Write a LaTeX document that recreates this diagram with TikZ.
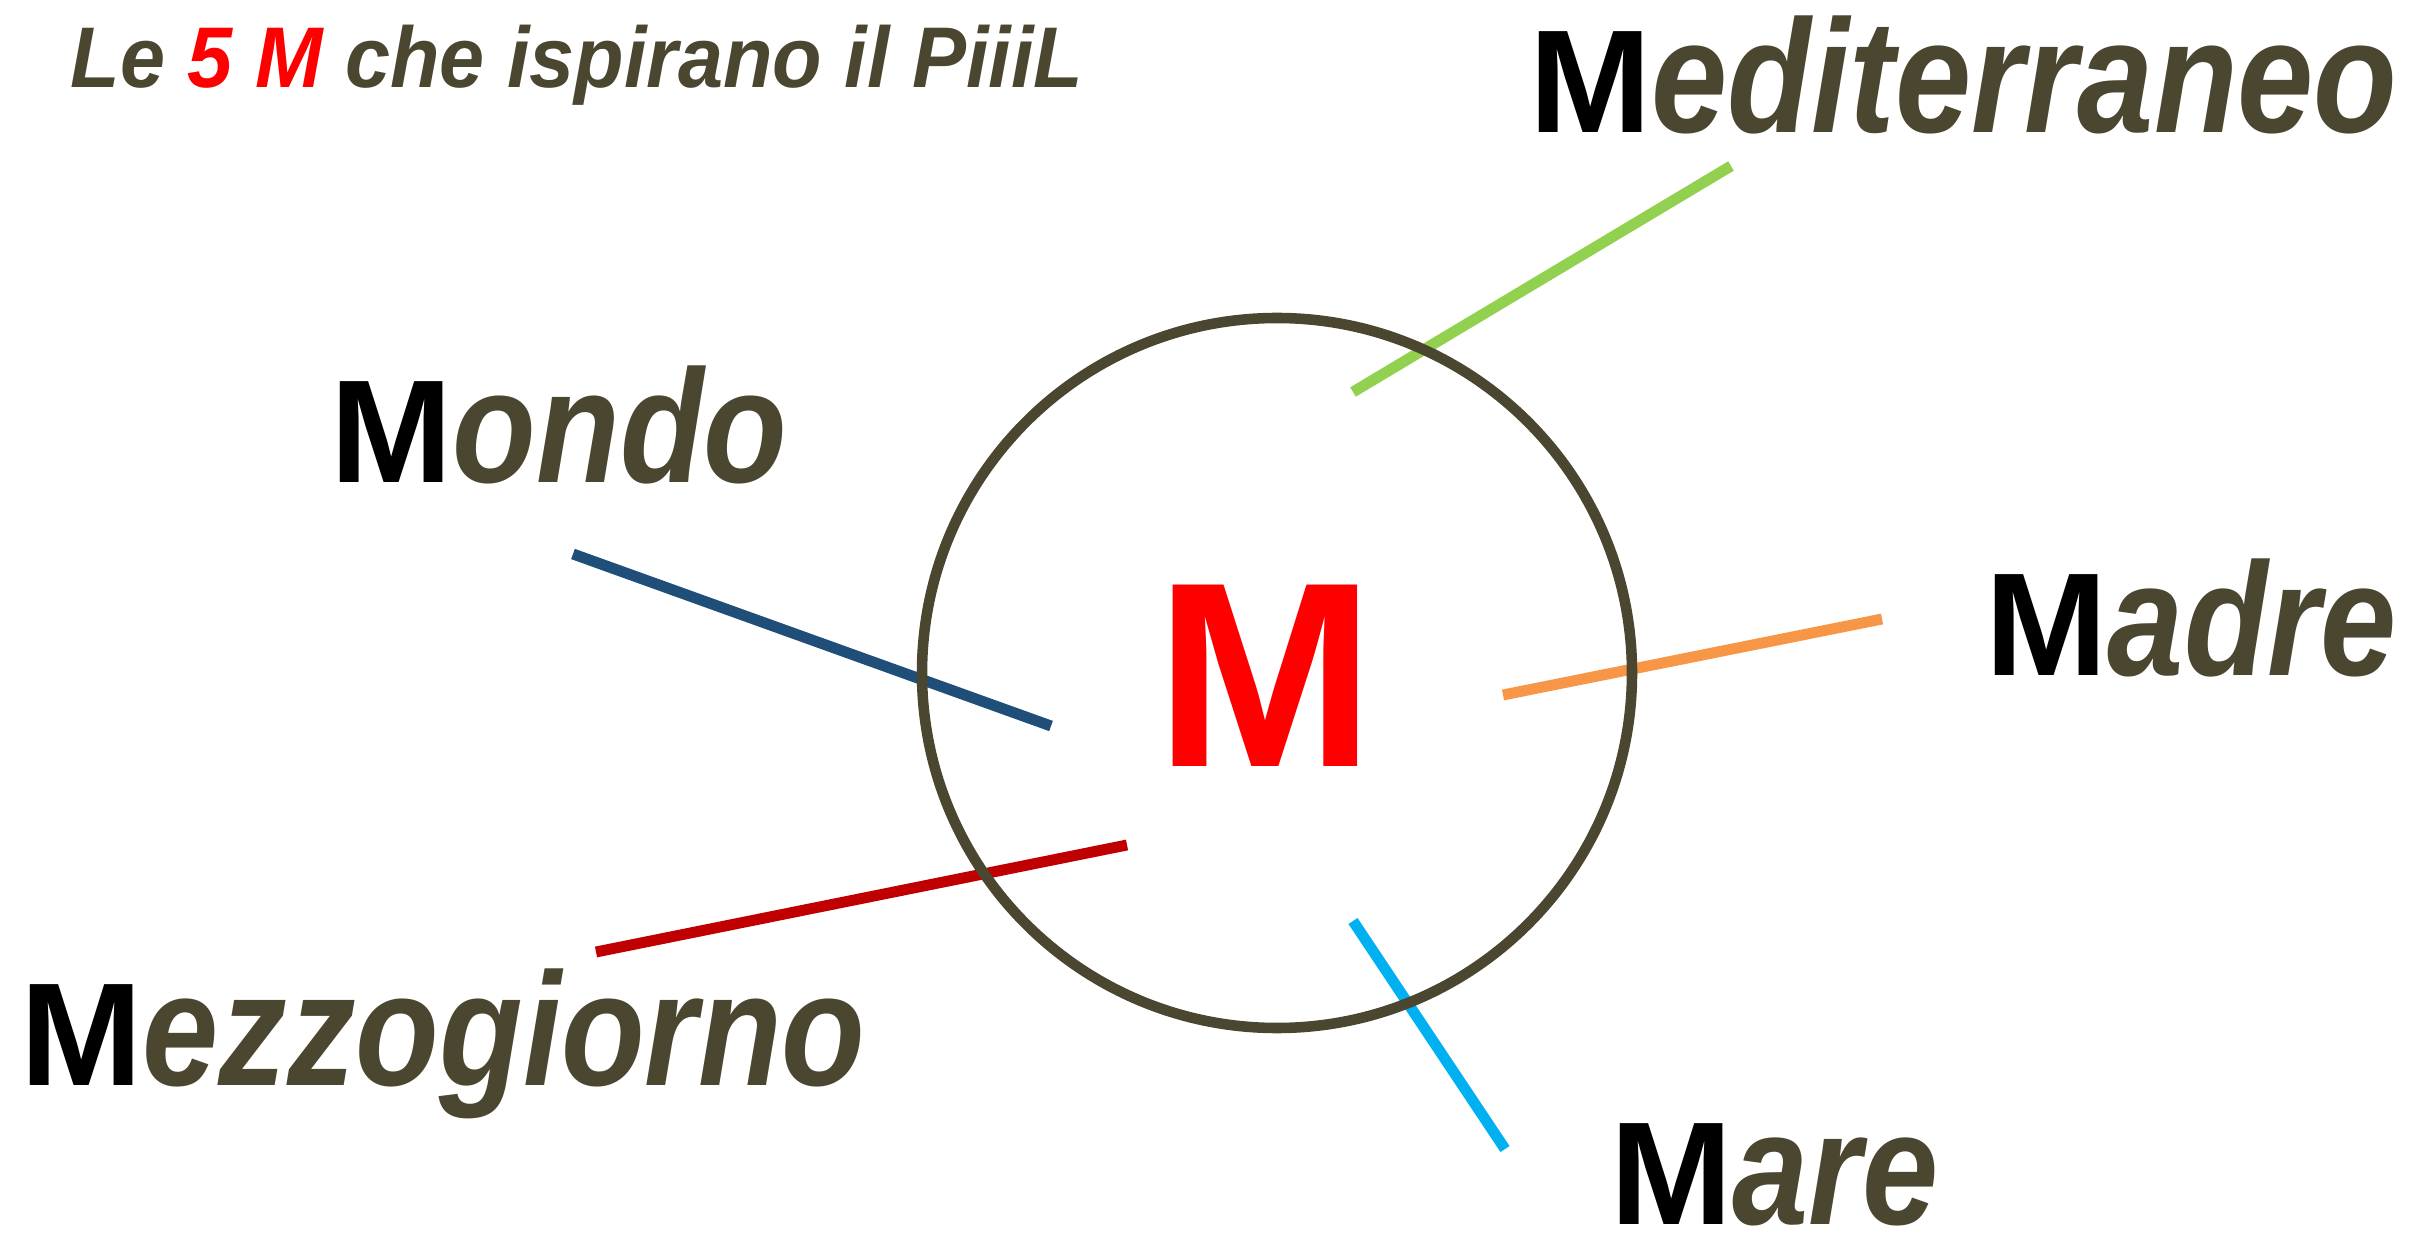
\documentclass[tikz,border=0pt]{standalone}
\usepackage{fontspec}
\usepackage{graphicx}
\setmainfont{Liberation Sans}
\definecolor{mtext}{HTML}{4B4630}
\definecolor{mgreen}{HTML}{92D050}
\definecolor{mblue}{HTML}{1F4E79}
\definecolor{morange}{HTML}{F79646}
\definecolor{mred}{HTML}{C00000}
\definecolor{mcyan}{HTML}{00B0F0}
\newcommand{\mword}[1]{{\fontsize{41.7}{45}\selectfont\bfseries M}{\color{mtext}\fontsize{45.8}{50}\selectfont\bfseries\itshape\scalebox{0.85}[1]{#1}}}
\tikzset{
  mlabel/.style={anchor=base west, inner sep=0pt},
  spoke/.style={line width=3.1pt},
}
\begin{document}
\begin{tikzpicture}[x=0.01cm, y=-0.01cm]
            \useasboundingbox (0,0) rectangle (2427,1240);
            % title
            \node[mlabel] (title) at (70,88) {\color{mtext}\fontsize{24.5}{26}\selectfont\bfseries\itshape\scalebox{0.94}[1]{Le {\color{red}5 M} che ispirano il PiiiL}};
            % the five words
            \node[mlabel] (mediterraneo) at (1529,133) {\mword{editerraneo}};
            \node[mlabel] (mondo) at (330,483) {\mword{ondo}};
            \node[mlabel] (madre) at (1985,676) {\mword{adre}};
            \node[mlabel] (mezzogiorno) at (20,1085) {\mword{ezzogiorno}};
            \node[mlabel] (mare) at (1610,1224) {\mword{are}};
            % the spokes
            \coordinate (g1) at (1353,392); \coordinate (g2) at (1731,166);
            \coordinate (b1) at (573,554);  \coordinate (b2) at (1051,726);
            \coordinate (o1) at (1503,695); \coordinate (o2) at (1882,619);
            \coordinate (r1) at (596,952);  \coordinate (r2) at (1127,845);
            \coordinate (c1) at (1353,921); \coordinate (c2) at (1505,1149);
            \draw[spoke, mgreen] (g1) -- (g2);
            \draw[spoke, mblue] (b1) -- (b2);
            \draw[spoke, morange] (o1) -- (o2);
            \draw[spoke, mred] (r1) -- (r2);
            \draw[spoke, mcyan] (c1) -- (c2);
            % the circle and its M
            \draw[mtext, line width=3pt] (1277,673) circle (355);
            \node[inner sep=0pt, text=red] (bigM) at (1265,676) {\fontsize{75}{80}\selectfont\bfseries M};
\end{tikzpicture}
\end{document}
